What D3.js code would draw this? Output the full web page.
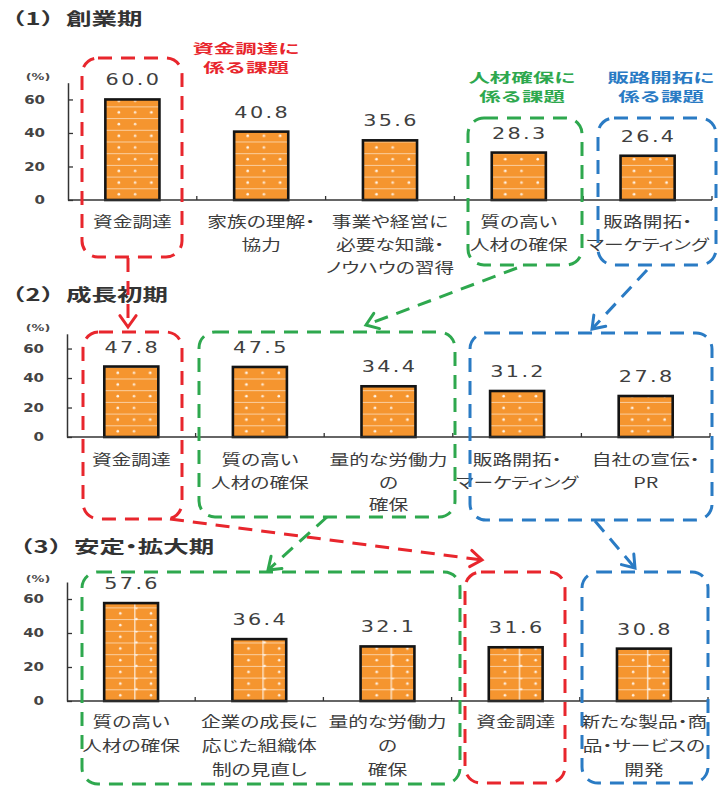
<!DOCTYPE html>
<html>
<head>
<meta charset="utf-8">
<script src="https://cdn.jsdelivr.net/npm/d3@7"></script>
<style>
  body { margin: 0; background: #fff; }
  .prop { font-feature-settings: "palt" 1; }
</style>
</head>
<body>
<svg id="chart" width="719" height="787"></svg>
<script>
// ---- Data: share of firms citing each issue (%) by growth stage ----
const stage1Categories = ["資金調達", "家族の理解・\n協力", "事業や経営に\n必要な知識・\nノウハウの習得", "質の高い\n人材の確保", "販路開拓・\nマーケティング"];
const stage1Values = [60.0, 40.8, 35.6, 28.3, 26.4];

const stage2Categories = ["資金調達", "質の高い\n人材の確保", "量的な労働力\nの\n確保", "販路開拓・\nマーケティング", "自社の宣伝・\nPR"];
const stage2Values = [47.8, 47.5, 34.4, 31.2, 27.8];

const stage3Categories = ["質の高い\n人材の確保", "企業の成長に\n応じた組織体\n制の見直し", "量的な労働力\nの\n確保", "資金調達", "新たな製品・商\n品・サービスの\n開発"];
const stage3Values = [57.6, 36.4, 32.1, 31.6, 30.8];

const stageNumbers = ["（1）", "（2）", "（3）"];
const stageNames = ["創業期", "成長初期", "安定・拡大期"];
const yTicks = [0, 20, 40, 60];
const yMax = 70;
const issueHeaders = [["資金調達に", "係る課題"], ["人材確保に", "係る課題"], ["販路開拓に", "係る課題"]];

// ---- Styling ----
const RED = "#e8262d", GREEN = "#2ea84e", BLUE = "#2a7bc4";
const ORANGE = "#f5952f";
const TEXT = "#3c3c3c";
const CJK = "'Noto Sans CJK JP', 'Noto Sans CJK SC', sans-serif";
const LATIN = "'DejaVu Sans', Verdana, sans-serif";
const DASH = "14,9";

const svg = d3.select("#chart");
const defs = svg.append("defs");

// Text drawn with a horizontal stretch (wide display lettering)
function wideText(g, x, y, str, o) {
  return g.append("text")
    .attr("class", o.prop ? "prop" : null)
    .attr("transform", `translate(${x},${y}) scale(${o.sx || 1},1)`)
    .attr("text-anchor", o.anchor || "middle")
    .attr("font-family", o.family || CJK)
    .attr("font-size", o.size)
    .attr("font-weight", o.weight || "normal")
    .attr("letter-spacing", o.ls || 0)
    .attr("fill", o.fill || TEXT)
    .text(str);
}

// Panel layout (pixel frame of each small chart)
const panels = [
  { cats: stage1Categories, vals: stage1Values, titleX: 0, titleY: 25,
    base: 200, top: 82.7, x0: 68, x1: 712, pctY: 80, labelY: 227, lineGap: 23, brick: false },
  { cats: stage2Categories, vals: stage2Values, titleX: 0, titleY: 301,
    base: 437, top: 333.8, x0: 67, x1: 710, pctY: 331, labelY: 465, lineGap: 22.5, brick: false },
  { cats: stage3Categories, vals: stage3Values, titleX: 8, titleY: 553,
    base: 701, top: 582, x0: 67, x1: 708, pctY: 582, labelY: 727, lineGap: 24, brick: true }
];

panels.forEach((p, pi) => {
  const g = svg.append("g");
  const x = d3.scaleBand().domain(p.cats).range([p.x0, p.x1]).paddingInner(0.58).paddingOuter(0.29);
  const y = d3.scaleLinear().domain([0, yMax]).range([p.base, p.top]);
  const bw = x.bandwidth();

  // Stage title: number in full-width brackets, name set proportionally
  const t = wideText(g, p.titleX, p.titleY, "", { anchor: "start", size: 17, weight: "bold", sx: 1.5, fill: "#333" });
  t.append("tspan").text(stageNumbers[pi]);
  t.append("tspan").attr("class", "prop").text(stageNames[pi]);

  // Unit label
  wideText(g, 38, p.pctY, "(%)", { family: LATIN, size: 9.5, weight: "bold", sx: 1.35, fill: "#4a4a4a" });

  // Bar fill patterns (one per bar so the motif lines up with each bar)
  p.cats.forEach((c, i) => {
    const pat = defs.append("pattern")
      .attr("id", `fill-${pi}-${i}`)
      .attr("patternUnits", "userSpaceOnUse")
      .attr("x", x(c)).attr("y", p.base)
      .attr("width", bw).attr("height", 23.4);
    pat.append("rect").attr("width", bw).attr("height", 23.4).attr("fill", ORANGE);
    [0, 11.7].forEach(yy => pat.append("line")
      .attr("x1", 0).attr("x2", bw).attr("y1", yy + 0.5).attr("y2", yy + 0.5)
      .attr("stroke", "#fff").attr("stroke-opacity", 0.55).attr("stroke-width", 1));
    if (p.brick) {
      pat.append("line").attr("x1", bw * 0.57).attr("x2", bw * 0.57).attr("y1", 0).attr("y2", 23.4)
        .attr("stroke", "#fff").attr("stroke-opacity", 0.8).attr("stroke-width", 1.3);
      [[0.3, 6], [0.87, 6], [0.3, 17.7], [0.87, 17.7], [0.6, 11.7], [0.6, 0.5]].forEach(([fx, fy]) =>
        pat.append("circle").attr("cx", bw * fx).attr("cy", fy).attr("r", 1.3).attr("fill", "#fff").attr("fill-opacity", 0.85));
    } else {
      [[0.25, 6], [0.55, 6], [0.85, 6], [0.55, 17.7], [0.25, 17.7]].forEach(([fx, fy], k) =>
        pat.append("circle").attr("cx", bw * fx).attr("cy", fy).attr("r", 1.3).attr("fill", "#fff")
          .attr("fill-opacity", k % 2 ? 0.75 : 0.9));
    }
  });

  // Bars
  g.selectAll("rect.bar").data(p.cats.map((c, i) => ({ c, v: p.vals[i], i })))
    .join("rect").attr("class", "bar")
    .attr("x", d => x(d.c)).attr("y", d => y(d.v))
    .attr("width", bw).attr("height", d => p.base - y(d.v))
    .attr("fill", d => `url(#fill-${pi}-${d.i})`)
    .attr("stroke", "#141414").attr("stroke-width", 2.6);

  // Value labels
  p.cats.forEach((c, i) => {
    wideText(g, x(c) + bw / 2 + 1, y(p.vals[i]) - 14, p.vals[i].toFixed(1),
      { family: LATIN, size: 16, sx: 1.3, ls: 1.8, fill: "#404040" });
  });

  // Y axis with inward ticks
  const yAxis = d3.axisLeft(y).tickValues(yTicks).tickSizeInner(-5).tickSizeOuter(0).tickPadding(0);
  const ya = g.append("g").attr("transform", `translate(${p.x0},0)`).call(yAxis);
  ya.select(".domain").attr("stroke", "#333").attr("stroke-width", 1.5);
  ya.selectAll(".tick line").attr("stroke", "#333").attr("stroke-width", 1.3);
  ya.selectAll(".tick text")
    .attr("x", -23 / 1.25).attr("transform", "scale(1.25,1)")
    .attr("font-family", LATIN).attr("font-size", 12).attr("font-weight", "bold")
    .attr("fill", "#444").attr("text-anchor", "end");

  // Category axis: baseline plus short upward ticks at band boundaries
  g.append("line").attr("x1", p.x0).attr("x2", p.x1).attr("y1", p.base).attr("y2", p.base)
    .attr("stroke", "#333").attr("stroke-width", 1.5);
  d3.range(1, p.cats.length + 1).forEach(k => {
    const bx = p.x0 + k * x.step();
    g.append("line").attr("x1", bx).attr("x2", bx).attr("y1", p.base).attr("y2", p.base - 4)
      .attr("stroke", "#333").attr("stroke-width", 1.3);
  });

  // Category labels (multi-line)
  p.cats.forEach(c => {
    c.split("\n").forEach((line, li) => {
      wideText(g, x(c) + bw / 2, p.labelY + li * p.lineGap, line, { size: 14.5, sx: 1.36, prop: true });
    });
  });
});

// ---- Issue headers above stage 1 ----
const headerAt = [[RED, 246, 53], [GREEN, 522, 82], [BLUE, 661, 82]];
issueHeaders.forEach((lines, i) => {
  const [col, hx, hy] = headerAt[i];
  lines.forEach((t, li) => wideText(svg, hx, hy + li * 19, t, { size: 13, weight: "bold", sx: 1.65, fill: col }));
});

// ---- Dashed call-out frames grouping related issues ----
const frames = [
  [RED, 82, 58, 182, 257], [GREEN, 468, 118, 582, 265], [BLUE, 598, 118, 716, 265],
  [RED, 83, 332, 182, 519], [GREEN, 199, 332, 455, 517], [BLUE, 470, 333, 712, 520],
  [GREEN, 82, 572, 460, 784], [RED, 465, 572, 565, 783], [BLUE, 582, 572, 708, 783]
];
svg.append("g").selectAll("rect").data(frames).join("rect")
  .attr("x", d => d[1]).attr("y", d => d[2])
  .attr("width", d => d[3] - d[1]).attr("height", d => d[4] - d[2])
  .attr("rx", 16).attr("ry", 16)
  .attr("fill", "none").attr("stroke", d => d[0])
  .attr("stroke-width", 3).attr("stroke-dasharray", DASH);

// ---- Dashed arrows tracing each issue across stages ----
const links = [
  [RED, 128, 258, 128, 327], [GREEN, 517, 268, 366, 325], [BLUE, 647, 270, 592, 329],
  [RED, 170, 519, 482, 560], [GREEN, 327, 517, 268, 570], [BLUE, 595, 521, 635, 568]
];
const arrows = svg.append("g");
links.forEach(([col, ax, ay, bx, by]) => {
  arrows.append("line").attr("x1", ax).attr("y1", ay).attr("x2", bx).attr("y2", by)
    .attr("stroke", col).attr("stroke-width", 3).attr("stroke-dasharray", DASH);
  const ang = Math.atan2(by - ay, bx - ax);
  const L = 14, spread = 0.62;
  const p1 = [bx - L * Math.cos(ang - spread), by - L * Math.sin(ang - spread)];
  const p2 = [bx - L * Math.cos(ang + spread), by - L * Math.sin(ang + spread)];
  arrows.append("path")
    .attr("d", `M${p1[0]},${p1[1]}L${bx},${by}L${p2[0]},${p2[1]}`)
    .attr("fill", "none").attr("stroke", col).attr("stroke-width", 3)
    .attr("stroke-linejoin", "miter").attr("stroke-linecap", "round");
});
</script>
</body>
</html>
